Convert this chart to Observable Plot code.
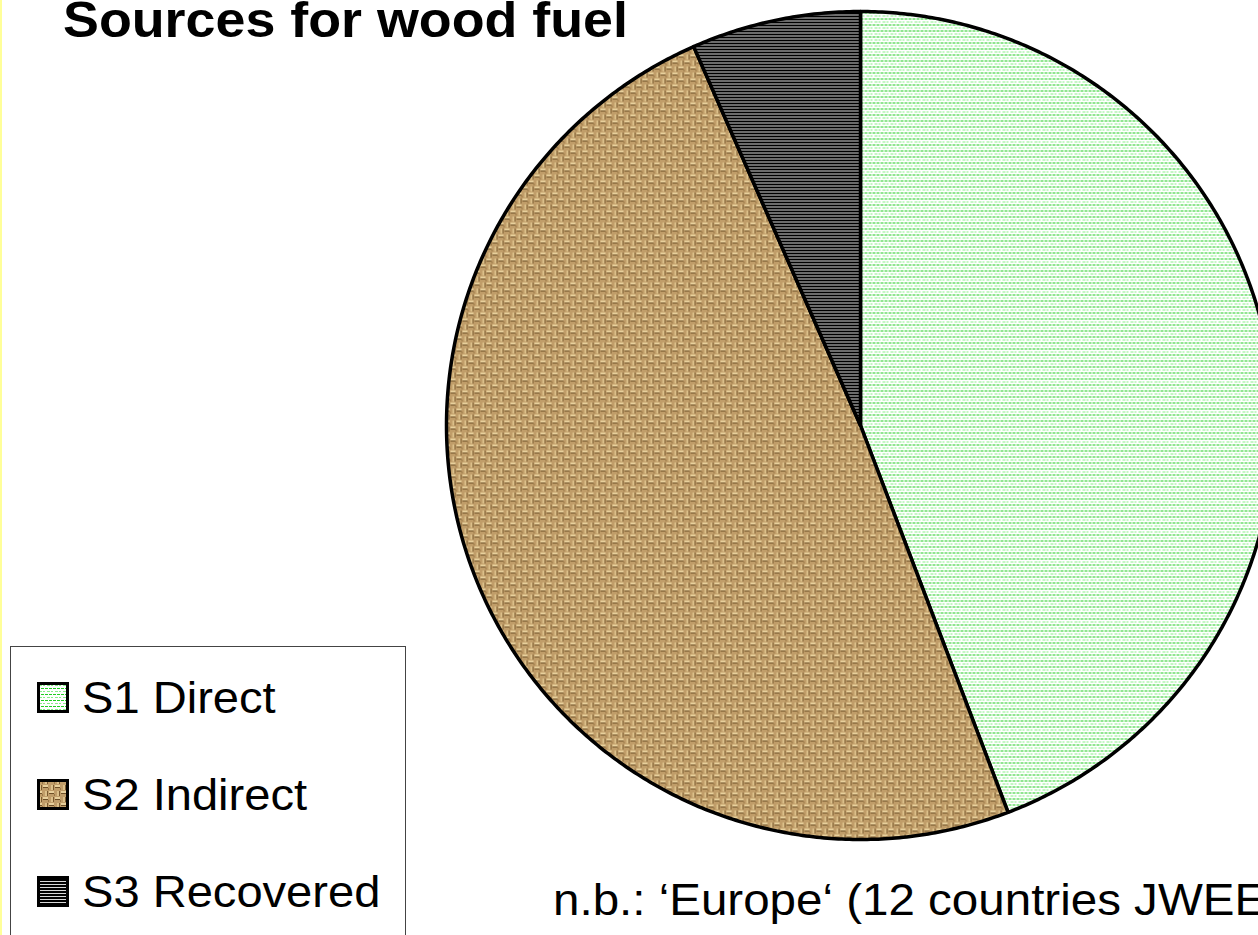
<!DOCTYPE html>
<html>
<head>
<meta charset="utf-8">
<script src="https://cdn.jsdelivr.net/npm/d3@7"></script>
<script src="https://cdn.jsdelivr.net/npm/@observablehq/plot@0.6"></script>
<style>
  html, body { margin: 0; padding: 0; background: #fff; overflow: hidden; }
  #stage { position: relative; width: 1258px; height: 935px; overflow: hidden; background: #fff; }
  #chart { position: absolute; left: 0; top: 0; }
  .txt { position: absolute; white-space: nowrap; font-family: "Liberation Sans", Arial, sans-serif; color: #000; line-height: 1; transform-origin: 0 0; }
  #title { left: 63px; font-size: 50px; font-weight: bold; top: -5px; transform: scaleX(1.076); }
  #caption { left: 553px; font-size: 44px; top: 878px; transform: scaleX(1.08); }
  #legend { position: absolute; left: 10px; top: 646px; width: 394px; height: 340px; border: 1px solid #444; background: #fff; }
  #yellow { position: absolute; left: 0; top: 0; width: 2px; height: 935px; background: #ffff99; }
</style>
</head>
<body>
<div id="stage">
  <svg width="0" height="0" style="position:absolute">
    <defs>
      <pattern id="p-direct" patternUnits="userSpaceOnUse" width="8" height="6">
        <rect width="8" height="6" fill="#ffffff"/>
        <rect x="0" y="0" width="3" height="1" fill="#22cc22"/>
        <rect x="4" y="0" width="3" height="1" fill="#22cc22"/>
        <rect x="2" y="3" width="3" height="1" fill="#88ee88"/>
        <rect x="6" y="3" width="2" height="1" fill="#88ee88"/>
      </pattern>
      <pattern id="p-indirect" patternUnits="userSpaceOnUse" width="12" height="12">
        <rect width="12" height="12" fill="#c09d69"/>
        <rect x="0" y="0" width="5" height="2" fill="#e8d09c"/>
        <rect x="6" y="6" width="5" height="2" fill="#e8d09c"/>
        <rect x="8" y="0" width="2" height="5" fill="#dcc08a"/>
        <rect x="2" y="6" width="2" height="5" fill="#dcc08a"/>
        <rect x="0" y="2" width="5" height="1" fill="#6e5028"/>
        <rect x="6" y="8" width="5" height="1" fill="#6e5028"/>
        <rect x="10" y="0" width="1" height="5" fill="#7a5a30"/>
        <rect x="4" y="6" width="1" height="5" fill="#7a5a30"/>
        <rect x="5" y="3" width="1" height="2" fill="#9a7846"/>
        <rect x="11" y="9" width="1" height="2" fill="#9a7846"/>
      </pattern>
      <pattern id="p-recovered" patternUnits="userSpaceOnUse" width="6" height="3">
        <rect width="6" height="3" fill="#d8d8d8"/>
        <rect x="0" y="0" width="6" height="2" fill="#000000"/>
      </pattern>
    </defs>
  </svg>
  <div id="chart"></div>
  <div id="yellow"></div>
  <div id="title" class="txt">Sources for wood fuel</div>
  <div id="legend"></div>
  <div id="caption" class="txt">n.b.: ‘Europe‘ (12 countries JWEE</div>
</div>
<script>
// ---- data ----
const categories = ["S1 Direct", "S2 Indirect", "S3 Recovered"];
const shares = [44.2, 49.2, 6.6];

// ---- styles (kept apart from data) ----
const fillOf = {
  "S1 Direct": "url(#p-direct)",
  "S2 Indirect": "url(#p-indirect)",
  "S3 Recovered": "url(#p-recovered)"
};

// build wedge outlines (unit circle, clockwise from 12 o'clock)
const total = d3.sum(shares);
const pts = [];
let acc = 0;
categories.forEach((c, i) => {
  const a0 = acc / total * 2 * Math.PI;
  acc += shares[i];
  const a1 = acc / total * 2 * Math.PI;
  pts.push({cat: c, x: 0, y: 0});
  const n = Math.max(2, Math.ceil((a1 - a0) / (Math.PI / 360)));
  for (let k = 0; k <= n; k++) {
    const a = a0 + (a1 - a0) * k / n;
    pts.push({cat: c, x: Math.sin(a), y: Math.cos(a)});
  }
  pts.push({cat: c, x: 0, y: 0});
});

const W = 1258, H = 935, cx = 860, cy = 425, R = 414;
const chart = Plot.plot({
  width: W,
  height: H,
  margin: 0,
  x: {domain: [-cx / R, (W - cx) / R], axis: null},
  y: {domain: [-(H - cy) / R, cy / R], axis: null},
  color: {type: "identity"},
  style: {background: "transparent", overflow: "hidden"},
  marks: [
    Plot.line(pts, {
      x: "x", y: "y", z: "cat",
      fill: d => fillOf[d.cat],
      stroke: "#000",
      strokeWidth: 3.5,
      strokeLinejoin: "round",
      clip: true
    })
  ]
});
document.getElementById("chart").appendChild(chart);

// legend
const legend = document.getElementById("legend");
const baselines = [713, 810, 907];
categories.forEach((c, i) => {
  const sw = document.createElementNS("http://www.w3.org/2000/svg", "svg");
  sw.setAttribute("width", 32);
  sw.setAttribute("height", 31);
  sw.style.position = "absolute";
  sw.style.left = (37 - 11) + "px";
  sw.style.top = (baselines[i] - 31 - 647) + "px";
  sw.innerHTML = `<rect x="1.5" y="1.5" width="29" height="28" fill="${fillOf[c]}" stroke="#000" stroke-width="3"/>`;
  legend.appendChild(sw);
  const t = document.createElement("div");
  t.className = "txt";
  t.textContent = c;
  t.style.fontSize = "44px";
  t.style.left = (82 - 11) + "px";
  t.style.top = (baselines[i] - 0.8465 * 44 - 647) + "px";
  t.style.transform = "scaleX(1.07)";
  legend.appendChild(t);
});
</script>
</body>
</html>
